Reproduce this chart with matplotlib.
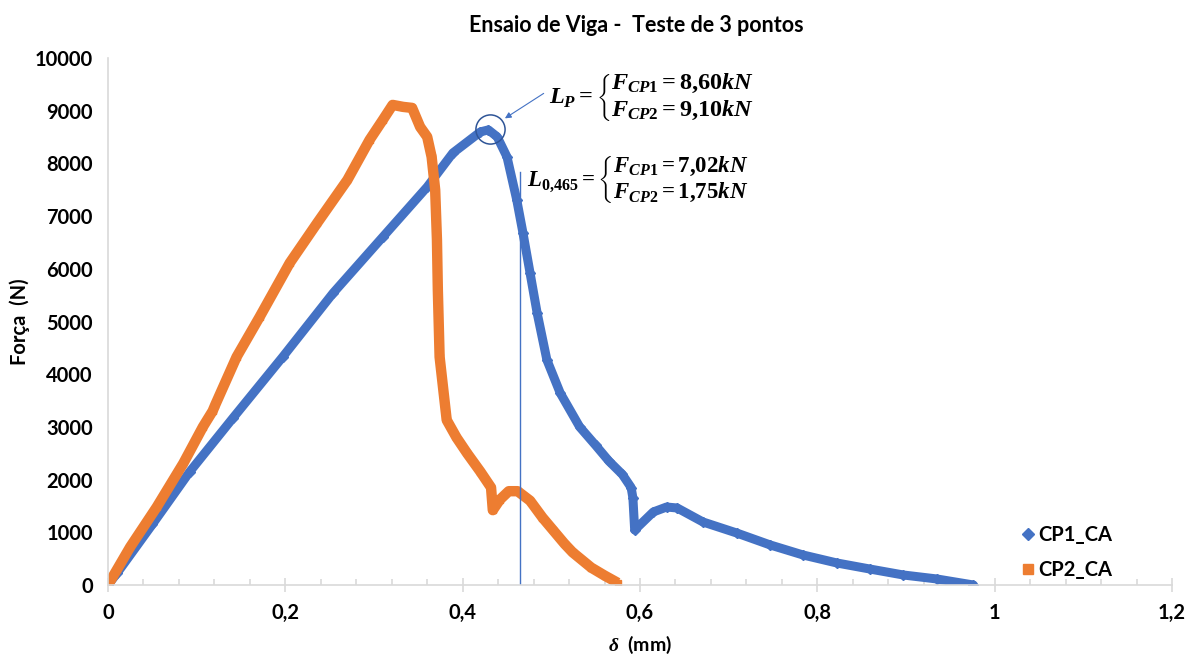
import matplotlib.pyplot as plt
from matplotlib.lines import Line2D
from matplotlib.ticker import MultipleLocator, FuncFormatter

plt.rcParams['font.family'] = ['Lato', 'DejaVu Sans']
plt.rcParams['mathtext.fontset'] = 'custom'
plt.rcParams['mathtext.rm'] = 'Liberation Serif:bold'
plt.rcParams['mathtext.it'] = 'Liberation Serif:italic:bold'
plt.rcParams['mathtext.bf'] = 'Liberation Serif:bold'

# CP1_CA  (deslocamento mm, forca N)
cp1_x = [0.0, 0.01, 0.05, 0.092, 0.141, 0.197, 0.254, 0.310, 0.360, 0.389, 0.420,
         0.429, 0.439, 0.450, 0.461, 0.468, 0.476, 0.484, 0.495, 0.510, 0.532,
         0.550, 0.565, 0.580, 0.590, 0.592, 0.594, 0.615, 0.630, 0.642, 0.671,
         0.709, 0.747, 0.784, 0.822, 0.859, 0.897, 0.935, 0.976]
cp1_y = [0, 220, 1150, 2145, 3170, 4327, 5542, 6605, 7554, 8199, 8598,
         8636, 8503, 8123, 7307, 6681, 5922, 5162, 4270, 3644, 2999,
         2650, 2350, 2100, 1850, 1650, 1044, 1386, 1480, 1461, 1196,
         987, 759, 569, 418, 304, 190, 114, 0]

# CP2_CA
cp2_x = [0.0, 0.025, 0.055, 0.085, 0.107, 0.118, 0.121, 0.145, 0.171, 0.205,
         0.236, 0.270, 0.295, 0.310, 0.321, 0.333, 0.343, 0.352, 0.360, 0.365,
         0.369, 0.371, 0.372, 0.374, 0.382, 0.393, 0.405, 0.420, 0.432, 0.434,
         0.442, 0.452, 0.462, 0.476, 0.490, 0.502, 0.515, 0.524, 0.545, 0.560,
         0.575]
cp2_y = [0, 720, 1480, 2310, 3000, 3300, 3420, 4327, 5086, 6111,
         6871, 7687, 8446, 8826, 9110, 9072, 9053, 8693, 8503, 8123,
         7497, 6548, 5599, 4327, 3130, 2800, 2500, 2150, 1850, 1420,
         1620, 1780, 1780, 1600, 1280, 1040, 780, 620, 330, 180,
         40]

labels = ['CP1_CA', 'CP2_CA']
x_ticks = [0, 0.2, 0.4, 0.6, 0.8, 1.0, 1.2]
y_ticks = list(range(0, 10001, 1000))

blue = '#4472C4'
orange = '#ED7D31'
grey = '#D9D9D9'

fig = plt.figure(figsize=(11.87, 6.58), dpi=100)
ax = fig.add_axes([108/1187, 1-585/658, 1064/1187, 527/658])

ax.plot(cp1_x, cp1_y, color=blue, lw=6.5, marker='D', ms=5, solid_joinstyle='round',
        solid_capstyle='round')
ax.plot(cp2_x, cp2_y, color=orange, lw=7.5, marker='s', ms=4.5, solid_joinstyle='round',
        solid_capstyle='butt')

# anotacoes
ax.plot([0.465, 0.465], [0, 7830], color=blue, lw=1)
ax.plot([0.431], [8650], marker='o', ms=21, mfc='none', mec='#2F5597', mew=1.1)
ax.annotate('', xy=(0.445, 8826), xytext=(0.494, 9357),
            arrowprops=dict(arrowstyle='-|>', color=blue, lw=0.8, mutation_scale=9))
ax.text(0.497, 9250,
        r'$L_{P} = \left\{\genfrac{}{}{0}{0}{F_{CP1} = 8{,}60kN}{F_{CP2} = 9{,}10kN}\right.$',
        fontsize=17.5, va='center', ha='left')
ax.text(0.472, 7680,
        r'$L_{0{,}465} = \left\{\genfrac{}{}{0}{0}{F_{CP1} = 7{,}02kN}{F_{CP2} = 1{,}75kN}\right.$',
        fontsize=16.5, va='center', ha='left')

ax.set_xlim(0, 1.2)
ax.set_ylim(0, 10000)
ax.set_xticks(x_ticks)
ax.set_yticks(y_ticks)
ax.xaxis.set_minor_locator(MultipleLocator(0.04))
ax.xaxis.set_major_formatter(FuncFormatter(lambda v, p: ('%g' % round(v, 2)).replace('.', ',')))

for s in ['top', 'right']:
    ax.spines[s].set_visible(False)
ax.spines['left'].set_color(grey)
ax.spines['bottom'].set_color(grey)
ax.spines['left'].set_linewidth(1.2)
ax.spines['bottom'].set_linewidth(1.2)
ax.tick_params(axis='x', which='major', direction='inout', length=10, color=grey,
               width=1.2, pad=8, labelsize=14.5)
ax.tick_params(axis='x', which='minor', direction='in', length=4, color=grey, width=1.2)
ax.tick_params(axis='y', length=0, pad=11, labelsize=14.5)
for lab in ax.get_xticklabels() + ax.get_yticklabels():
    lab.set_fontweight('bold')

ax.set_ylabel('Força  (N)', fontsize=14.5, fontweight='bold', labelpad=3)
ax.set_xlabel(r'$\delta$  (mm)', fontsize=14, fontweight='bold', labelpad=8)
fig.text(636/1187, 1-25/658, 'Ensaio de Viga -  Teste de 3 pontos', fontsize=15.5,
         fontweight='bold', ha='center', va='center')

handles = [Line2D([], [], color=blue, marker='D', ls='none', ms=6),
           Line2D([], [], color=orange, marker='s', ls='none', ms=7)]
ax.legend(handles, labels, loc='lower left', bbox_to_anchor=(0.84, -0.025), frameon=False,
          prop={'weight': 'bold', 'size': 14.5}, handlelength=0.8, handletextpad=0.1,
          labelspacing=0.75)

fig.savefig('out.png', dpi=100)
